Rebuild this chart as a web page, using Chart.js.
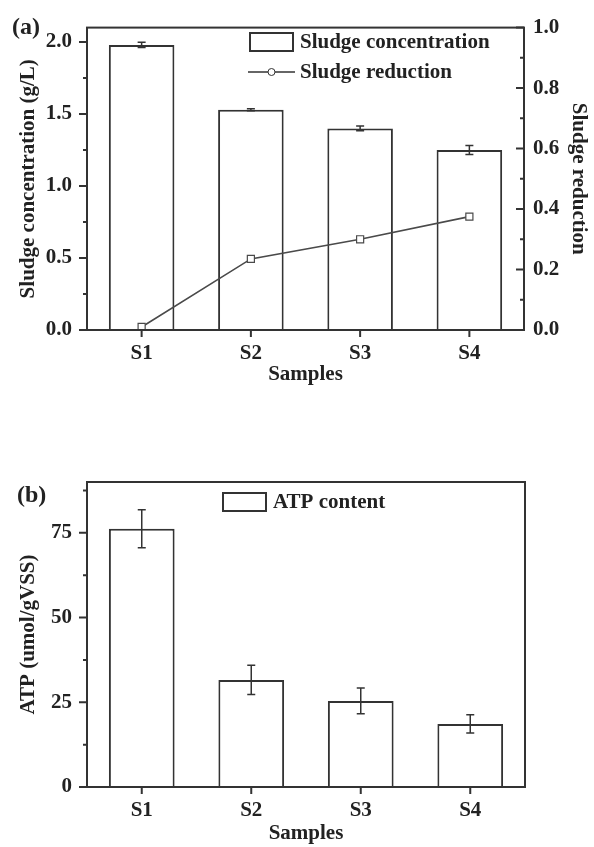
<!DOCTYPE html>
<html>
<head>
<meta charset="utf-8">
<script src="https://cdn.jsdelivr.net/npm/chart.js@4.4.1/dist/chart.umd.min.js"></script>
<style>
  html, body { margin: 0; padding: 0; background: #fff; }
  #wrap { position: relative; width: 594px; height: 847px; }
  .panel { position: absolute; left: 0; width: 594px; }
  #pa { top: 0; height: 400px; }
  #pb { top: 420px; height: 427px; }
  .tag { position: absolute; font: bold 24px 'Liberation Serif', serif; color: #222; line-height: 28px; }
</style>
</head>
<body>
<div id="wrap">
  <div class="panel" id="pa"><canvas id="chartA"></canvas></div>
  <div class="panel" id="pb"><canvas id="chartB"></canvas></div>
  <div class="tag" style="left:12px;top:12px">(a)</div>
  <div class="tag" style="left:17px;top:480px">(b)</div>
</div>
<script>
// data
const samples = ['S1', 'S2', 'S3', 'S4'];
const sludgeConc = [1.98, 1.53, 1.40, 1.25];
const sludgeConcErr = [0.018, 0.007, 0.017, 0.032];
const sludgeReduction = [0.01, 0.235, 0.30, 0.375];
const atpContent = [76.2, 31.6, 25.4, 18.6];
const atpErr = [5.6, 4.3, 3.8, 2.7];

const ink = '#333';
const txt = '#222';
const font = { family: "'Liberation Serif', serif", size: 21, weight: 'bold' };

// frame + ticks (major and minor)
const frame = {
    id: 'frame',
    afterDraw(chart, args, o) {
        const { ctx, chartArea: a } = chart;
        ctx.save();
        ctx.strokeStyle = ink;
        ctx.lineWidth = 2;
        ctx.strokeRect(a.left, a.top, a.right - a.left, a.bottom - a.top);
        (o.axes || []).forEach(ax => {
            const s = chart.scales[ax.id];
            ctx.beginPath();
            if (ax.id === 'x') {
                s.ticks.forEach((t, i) => {
                    const px = s.getPixelForTick(i);
                    ctx.moveTo(px, a.bottom);
                    ctx.lineTo(px, a.bottom + 7);
                });
            } else {
                const vals = s.ticks.map(t => t.value);
                const step = vals[1] - vals[0];
                const x0 = ax.side === 'left' ? a.left : a.right;
                vals.forEach(v => {
                    const py = s.getPixelForValue(v);
                    ctx.moveTo(x0, py);
                    ctx.lineTo(x0 + ax.dir * 8, py);
                    const m = v + step / 2;
                    if (m <= s.max) {
                        const pm = s.getPixelForValue(m);
                        ctx.moveTo(x0, pm);
                        ctx.lineTo(x0 + ax.dir * 4, pm);
                    }
                });
            }
            ctx.stroke();
        });
        ctx.restore();
    }
};

// error bars
const errorBars = {
    id: 'errorBars',
    afterDatasetsDraw(chart) {
        const ctx = chart.ctx;
        chart.data.datasets.forEach((ds, i) => {
            if (!ds.errors) return;
            const meta = chart.getDatasetMeta(i);
            const ys = chart.scales[meta.yAxisID];
            ctx.save();
            ctx.strokeStyle = ink;
            ctx.lineWidth = 1.5;
            meta.data.forEach((bar, j) => {
                const y1 = ys.getPixelForValue(ds.data[j] + ds.errors[j]);
                const y2 = ys.getPixelForValue(ds.data[j] - ds.errors[j]);
                ctx.beginPath();
                ctx.moveTo(bar.x, y1); ctx.lineTo(bar.x, y2);
                ctx.moveTo(bar.x - 4, y1); ctx.lineTo(bar.x + 4, y1);
                ctx.moveTo(bar.x - 4, y2); ctx.lineTo(bar.x + 4, y2);
                ctx.stroke();
            });
            ctx.restore();
        });
    }
};

// legend inside the plot
const boxLegend = {
    id: 'boxLegend',
    afterDraw(chart, args, o) {
        const ctx = chart.ctx;
        ctx.save();
        ctx.font = "bold 21px 'Liberation Serif', serif";
        ctx.textBaseline = 'middle';
        chart.data.datasets.forEach((ds, i) => {
            const cy = o.y + i * o.row;
            ctx.strokeStyle = ink;
            ctx.lineWidth = 2;
            if (ds.type === 'line') {
                ctx.lineWidth = 1.5;
                ctx.beginPath();
                ctx.moveTo(o.x - 2, cy); ctx.lineTo(o.x + o.w + 2, cy);
                ctx.stroke();
                ctx.beginPath();
                ctx.arc(o.x + o.w / 2, cy, 3.5, 0, Math.PI * 2);
                ctx.fillStyle = '#fff';
                ctx.fill();
                ctx.lineWidth = 1;
                ctx.stroke();
            } else {
                ctx.fillStyle = '#fff';
                ctx.fillRect(o.x, cy - o.h / 2, o.w, o.h);
                ctx.strokeRect(o.x, cy - o.h / 2, o.w, o.h);
            }
            ctx.fillStyle = txt;
            ctx.fillText(ds.label, o.x + o.w + 7, cy + 1);
        });
        ctx.restore();
    }
};

const plain = { display: false, drawTicks: false };

new Chart(document.getElementById('chartA'), {
    type: 'bar',
    data: {
        labels: samples,
        datasets: [{
            type: 'bar',
            label: 'Sludge concentration',
            data: sludgeConc,
            errors: sludgeConcErr,
            yAxisID: 'y',
            backgroundColor: '#fff',
            borderColor: ink,
            borderWidth: 2,
            barPercentage: 0.6,
            categoryPercentage: 1.0,
            order: 1
        }, {
            type: 'line',
            label: 'Sludge reduction',
            data: sludgeReduction,
            yAxisID: 'y1',
            borderColor: '#4a4a4a',
            borderWidth: 1.6,
            pointStyle: 'rect',
            pointRadius: 5,
            pointBackgroundColor: '#fff',
            pointBorderColor: '#4a4a4a',
            pointBorderWidth: 1.2,
            tension: 0,
            order: 0
        }]
    },
    options: {
        responsive: true,
        maintainAspectRatio: false,
        animation: false,
        layout: { padding: { top: 24, left: 0, right: 0, bottom: 0 } },
        plugins: {
            legend: { display: false },
            tooltip: { enabled: false },
            frame: { axes: [{ id: 'x' }, { id: 'y', side: 'left', dir: -1 }, { id: 'y1', side: 'right', dir: -1 }] },
            boxLegend: { x: 250, y: 42, row: 30, w: 43, h: 18 }
        },
        scales: {
            x: {
                offset: true,
                grid: plain,
                border: { display: false },
                ticks: { font: font, color: txt, padding: 11 },
                title: { display: true, text: 'Samples', font: font, color: txt, padding: { top: 0, bottom: 13 } },
                afterFit: s => { s.height = 70; }
            },
            y: {
                position: 'left',
                min: 0,
                max: 2.1,
                grid: plain,
                border: { display: false },
                ticks: { stepSize: 0.5, includeBounds: false, padding: 15, font: font, color: txt, callback: v => v.toFixed(1) },
                title: { display: true, text: 'Sludge concentration (g/L)', font: font, color: txt, padding: { top: 16, bottom: 0 } },
                afterFit: s => { s.width = 87; }
            },
            y1: {
                position: 'right',
                min: 0,
                max: 1.0,
                grid: plain,
                border: { display: false },
                ticks: { stepSize: 0.2, includeBounds: false, padding: 9, font: font, color: txt, callback: v => v.toFixed(1) },
                title: { display: true, text: 'Sludge reduction', font: font, color: txt, padding: { top: 3, bottom: 0 } },
                afterFit: s => { s.width = 70; }
            }
        }
    },
    plugins: [frame, errorBars, boxLegend]
});

new Chart(document.getElementById('chartB'), {
    type: 'bar',
    data: {
        labels: samples,
        datasets: [{
            type: 'bar',
            label: 'ATP content',
            data: atpContent,
            errors: atpErr,
            backgroundColor: '#fff',
            borderColor: ink,
            borderWidth: 2,
            barPercentage: 0.6,
            categoryPercentage: 1.0
        }]
    },
    options: {
        responsive: true,
        maintainAspectRatio: false,
        animation: false,
        layout: { padding: { top: 62, left: 0, right: 69, bottom: 0 } },
        plugins: {
            legend: { display: false },
            tooltip: { enabled: false },
            frame: { axes: [{ id: 'x' }, { id: 'y', side: 'left', dir: -1 }] },
            boxLegend: { x: 223, y: 82, row: 30, w: 43, h: 18 }
        },
        scales: {
            x: {
                offset: true,
                grid: plain,
                border: { display: false },
                ticks: { font: font, color: txt, padding: 11 },
                title: { display: true, text: 'Samples', font: font, color: txt, padding: { top: 0, bottom: 1 } },
                afterFit: s => { s.height = 60; }
            },
            y: {
                position: 'left',
                min: 0,
                max: 90,
                grid: plain,
                border: { display: false },
                ticks: { stepSize: 25, includeBounds: false, padding: 15, font: font, color: txt },
                title: { display: true, text: 'ATP (umol/gVSS)', font: font, color: txt, padding: { top: 16, bottom: 0 } },
                afterFit: s => { s.width = 87; }
            }
        }
    },
    plugins: [frame, errorBars, boxLegend]
});
</script>
</body>
</html>
